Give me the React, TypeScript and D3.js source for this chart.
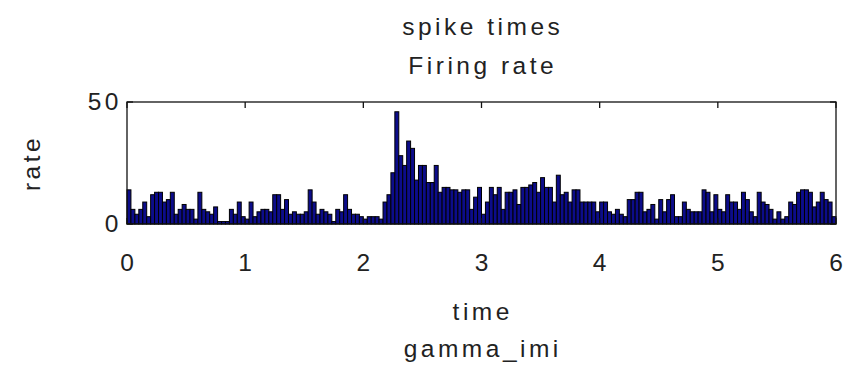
import React from "react";
import * as d3 from "d3";

const binWidth = 1 / 30;
const rates: number[] = [
  // 0-1 s
  14, 6, 4, 6, 9, 3, 12, 13, 13, 9, 10, 13, 4, 6, 8, 6, 6, 2, 13, 6, 5, 4, 7, 1, 1, 1, 6, 4, 9, 3,
  // 1-2 s
  2, 9, 3, 5, 6, 6, 5, 12, 12, 6, 10, 4, 5, 4, 4, 5, 14, 9, 4, 6, 5, 4, 1, 6, 5, 12, 6, 4, 4, 3,
  // 2-3 s
  2, 3, 3, 3, 2, 9, 12, 21, 46, 28, 24, 34, 31, 18, 24, 24, 17, 17, 24, 13, 15, 15, 14, 14, 13, 14, 14, 6, 11, 15,
  // 3-4 s
  4, 9, 15, 12, 15, 6, 13, 13, 14, 8, 15, 15, 16, 17, 13, 19, 15, 15, 9, 20, 12, 13, 9, 14, 14, 9, 9, 9, 9, 5,
  // 4-5 s
  9, 9, 5, 4, 6, 4, 3, 10, 10, 13, 13, 5, 6, 8, 2, 10, 5, 10, 12, 3, 3, 9, 6, 5, 5, 5, 14, 13, 5, 12,
  // 5-6 s
  6, 5, 12, 9, 9, 6, 13, 10, 5, 3, 13, 9, 8, 6, 2, 5, 2, 3, 9, 8, 13, 14, 14, 13, 7, 9, 13, 10, 9, 3,
];
const xTicks = [0, 1, 2, 3, 4, 5, 6];
const yTicks = [0, 50];
const titleLines = ["spike times", "Firing rate"];
const xLabelLines = ["time", "gamma_imi"];
const yLabel = "rate";

export default function App() {
  const W = 848, H = 366;
  const left = 127, right = 836, top = 102, bottom = 224;
  const x = d3.scaleLinear().domain([0, 6]).range([left, right]);
  const y = d3.scaleLinear().domain([0, 50]).range([bottom, top]);
  const font = "'Liberation Sans', Arial, sans-serif";
  const fs = 24.5;
  const ls = 3.5;
  const txt = { fontFamily: font, fontSize: fs, fill: "#222", letterSpacing: ls } as const;
  return (
    <svg width={W} height={H} style={{ position: "absolute", left: 0, top: 0, background: "#fff" }}>
      <rect x={0} y={0} width={W} height={H} fill="#fff" />
      {rates.map((r, i) => {
        const x0 = x(i * binWidth);
        const x1 = x((i + 1) * binWidth);
        const y0 = y(r);
        return (
          <rect key={i} x={x0} y={y0} width={x1 - x0} height={bottom - y0}
            fill="#0c0c8a" stroke="#000" strokeWidth={1} />
        );
      })}
      <rect x={left} y={top} width={right - left} height={bottom - top} fill="none" stroke="#111" strokeWidth={1.3} />
      {xTicks.map((t) => (
        <g key={t}>
          <line x1={x(t)} x2={x(t)} y1={bottom} y2={bottom - 6} stroke="#111" strokeWidth={1.3} />
          <line x1={x(t)} x2={x(t)} y1={top} y2={top + 6} stroke="#111" strokeWidth={1.3} />
          <text x={x(t) + ls / 2} y={271} textAnchor="middle" {...txt}>{t}</text>
        </g>
      ))}
      {yTicks.map((t) => (
        <g key={t}>
          <line x1={left} x2={left + 6} y1={y(t)} y2={y(t)} stroke="#111" strokeWidth={1.3} />
          <line x1={right} x2={right - 6} y1={y(t)} y2={y(t)} stroke="#111" strokeWidth={1.3} />
          <text x={left - 5} y={y(t) + 8} textAnchor="end" {...txt}>{t}</text>
        </g>
      ))}
      {titleLines.map((s, i) => (
        <text key={s} x={481 + ls / 2} y={35 + i * 39} textAnchor="middle" {...txt}>{s}</text>
      ))}
      {xLabelLines.map((s, i) => (
        <text key={s} x={481 + ls / 2} y={320 + i * 37} textAnchor="middle" {...txt}>{s}</text>
      ))}
      <text transform={`translate(40,163) rotate(-90)`} textAnchor="middle" {...txt}>{yLabel}</text>
    </svg>
  );
}
